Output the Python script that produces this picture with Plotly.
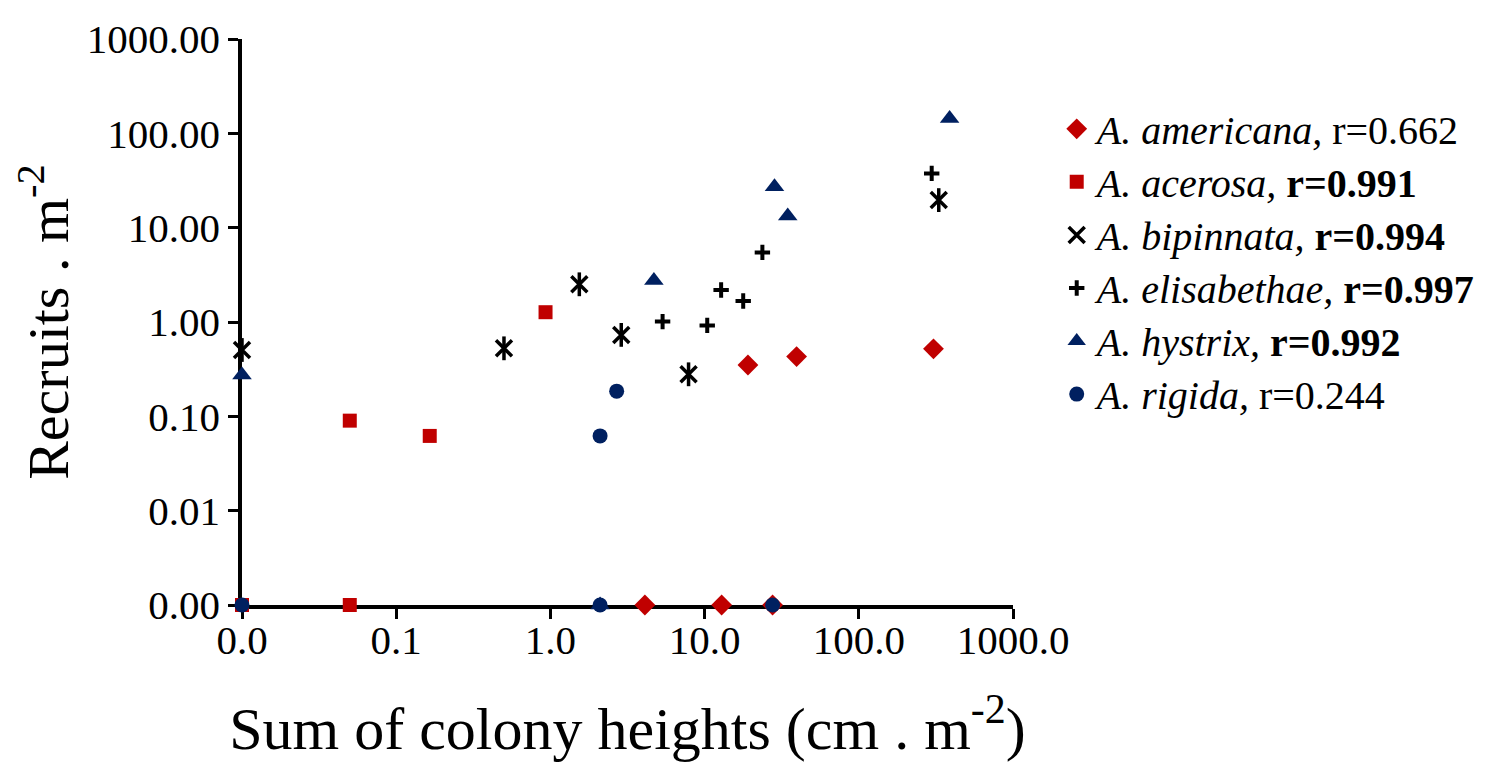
import plotly.graph_objects as go

# Values (zero values are drawn on the axis minimum: x=0.01, y=0.001)
americana_x = [4.1, 12.9, 27.6, 19.1, 39.5, 305]
americana_y = [0.001, 0.001, 0.001, 0.35, 0.43, 0.52]

acerosa_x = [0.01, 0.05, 0.05, 0.165, 0.93]
acerosa_y = [0.001, 0.001, 0.09, 0.062, 1.27]

bipinnata_x = [0.01, 0.5, 1.54, 2.88, 7.87, 330]
bipinnata_y = [0.505, 0.526, 2.51, 0.73, 0.279, 19.6]

elisabethae_x = [5.34, 10.4, 12.8, 17.8, 23.7, 297]
elisabethae_y = [1.01, 0.92, 2.18, 1.67, 5.47, 37.6]

hystrix_x = [0.01, 2.1, 4.69, 28.4, 34.6, 388]
hystrix_y = [0.275, 0.001, 2.75, 27.2, 13.3, 144]

rigida_x = [0.01, 2.1, 27.6, 2.1, 2.69]
rigida_y = [0.001, 0.001, 0.001, 0.062, 0.185]

species = ["A. americana,", "A. acerosa,", "A. bipinnata,", "A. elisabethae,",
           "A. hystrix,", "A. rigida,"]
r_values = ["r=0.662", "r=0.991", "r=0.994", "r=0.997", "r=0.992", "r=0.244"]
r_bold = [False, True, True, True, True, False]

x_tickvals = [0.01, 0.1, 1, 10, 100, 1000]
x_ticktext = ["0.0", "0.1", "1.0", "10.0", "100.0", "1000.0"]
y_tickvals = [0.001, 0.01, 0.1, 1, 10, 100, 1000]
y_ticktext = ["0.00", "0.01", "0.10", "1.00", "10.00", "100.00", "1000.00"]

RED = "#C00000"
NAVY = "#002060"
FONT = "Liberation Serif"


def legend_name(i):
    r = f"<b>{r_values[i]}</b>" if r_bold[i] else r_values[i]
    return f'<span style="font-size:40px"><i>{species[i]}</i> {r}</span>'


fig = go.Figure()

fig.add_trace(go.Scatter(x=americana_x, y=americana_y, mode="markers", name=legend_name(0),
                         legendgroup="g1",
                         marker=dict(symbol="diamond", size=16, color=RED, line=dict(width=0))))
fig.add_trace(go.Scatter(x=acerosa_x, y=acerosa_y, mode="markers", name=legend_name(1),
                         legendgroup="g2",
                         marker=dict(symbol="square", size=14, color=RED, line=dict(width=0))))
fig.add_trace(go.Scatter(x=bipinnata_x, y=bipinnata_y, mode="markers", name=legend_name(2),
                         legendgroup="g3",
                         marker=dict(symbol="x-thin-open", size=16, color="black",
                                     line=dict(width=3.5, color="black"))))
fig.add_trace(go.Scatter(x=bipinnata_x, y=bipinnata_y, mode="markers", name=legend_name(2),
                         legendgroup="g3", showlegend=False,
                         marker=dict(symbol="line-ns-open", size=17, color="black",
                                     line=dict(width=3.5, color="black"))))
fig.add_trace(go.Scatter(x=elisabethae_x, y=elisabethae_y, mode="markers", name=legend_name(3),
                         legendgroup="g4",
                         marker=dict(symbol="cross-thin-open", size=11, color="black",
                                     line=dict(width=4, color="black"))))
fig.add_trace(go.Scatter(x=hystrix_x, y=hystrix_y, mode="markers", name=legend_name(4),
                         legendgroup="g5",
                         marker=dict(symbol="triangle-up", size=17, color=NAVY, line=dict(width=0))))
fig.add_trace(go.Scatter(x=rigida_x, y=rigida_y, mode="markers", name=legend_name(5),
                         legendgroup="g6",
                         marker=dict(symbol="circle", size=15, color=NAVY, line=dict(width=0))))

fig.update_traces(cliponaxis=False)

# empty helper trace so that the overlay axis carrying the tick labels is drawn
fig.add_trace(go.Scatter(x=[x_tickvals[0]], y=[None], xaxis="x2", yaxis="y",
                         mode="markers", showlegend=False, hoverinfo="skip",
                         marker=dict(opacity=0)))

tickfont = dict(family=FONT, size=41, color="black")

# main x axis: line + ticks
fig.update_layout(xaxis=dict(
    type="log", range=[-2, 3], showgrid=False, zeroline=False, showline=True,
    linecolor="black", linewidth=3.5, ticks="outside", ticklen=10, tickwidth=3,
    tickcolor="black", tickvals=x_tickvals, showticklabels=False, layer="below traces",
))
# overlay x axis: tick labels + title
fig.update_layout(xaxis2=dict(
    type="log", range=[-2, 3], overlaying="x", anchor="y", side="bottom",
    showgrid=False, zeroline=False, showline=False, ticks="",
    tickvals=x_tickvals, ticktext=x_ticktext, tickfont=tickfont, layer="below traces",
    ticklabelstandoff=7,
    title=dict(text="Sum of colony heights (cm . m<sup>-2</sup>)",
               font=dict(family=FONT, size=60, color="black"), standoff=44),
))
fig.update_layout(yaxis=dict(
    type="log", range=[-3, 3], showgrid=False, zeroline=False, showline=True,
    linecolor="black", linewidth=3.5, ticks="outside", ticklen=10, tickwidth=3,
    tickcolor="black", tickvals=y_tickvals, ticktext=y_ticktext, tickfont=tickfont,
    layer="below traces",
    title=dict(text="Recruits . m<sup>-2</sup>",
               font=dict(family=FONT, size=58, color="black"), standoff=22),
))

fig.update_layout(
    width=1486, height=766,
    margin=dict(l=234, r=481, t=30.5, b=169, autoexpand=False),
    paper_bgcolor="white", plot_bgcolor="white",
    showlegend=True,
    legend=dict(x=1.0567, y=0.897, xanchor="left", yanchor="top",
                font=dict(family=FONT, size=38.5, color="black"),
                bgcolor="rgba(0,0,0,0)", traceorder="normal",
                itemsizing="trace"),
)

fig.write_html("out.html")
